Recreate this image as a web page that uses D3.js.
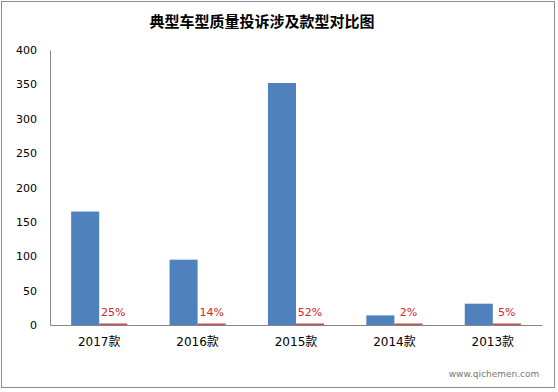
<!DOCTYPE html>
<html>
<head>
<meta charset="utf-8">
<script src="https://cdn.jsdelivr.net/npm/d3@7"></script>
<style>
    body { margin: 0; background: #fff; }
    text { font-family: "DejaVu Sans", sans-serif; }
</style>
</head>
<body>
<div id="chart"></div>
<script>
// chart data
let categories = ["2017款", "2016款", "2015款", "2014款", "2013款"];
let counts = [165, 95, 352, 14, 31];
let shares = [0.25, 0.14, 0.52, 0.02, 0.05];
let shareLabels = ["25%", "14%", "52%", "2%", "5%"];
let yTicks = [0, 50, 100, 150, 200, 250, 300, 350, 400];

let fullWidth = 558;
let fullHeight = 392;
let margin = {top: 50, right: 16, bottom: 67, left: 50};
let width = fullWidth - margin.left - margin.right;
let height = fullHeight - margin.top - margin.bottom;

let root = d3.select("#chart")
    .append("svg")
    .attr("width", fullWidth)
    .attr("height", fullHeight);

// outer frame
root.append("rect")
    .attr("x", 1.5)
    .attr("y", 1.5)
    .attr("width", 553)
    .attr("height", 386)
    .attr("fill", "none")
    .attr("stroke", "#8c8c8c");

root.append("text")
    .attr("x", 262)
    .attr("y", 27)
    .attr("text-anchor", "middle")
    .style("font-family", "'Noto Sans CJK SC', sans-serif")
    .style("font-size", "15px")
    .style("font-weight", "bold")
    .text("典型车型质量投诉涉及款型对比图");

let svg = root.append("g")
    .attr("transform", `translate(${margin.left},${margin.top})`);

let x = d3.scaleBand()
    .domain(categories)
    .range([0, width])
    .paddingInner(0.43)
    .paddingOuter(0.215);

let sub = d3.scaleBand()
    .domain(["count", "share"])
    .range([0, x.bandwidth()]);

let y = d3.scaleLinear()
    .domain([0, 400])
    .range([height, 0]);

// y axis
let yAxis = svg.append("g")
    .call(d3.axisLeft(y).tickValues(yTicks).tickSize(0).tickPadding(13));
yAxis.select(".domain").attr("stroke", "#868686");
yAxis.selectAll("text")
    .style("font-size", "11px")
    .attr("fill", "#000");

// blue bars
svg.selectAll(".count")
    .data(counts)
    .join("rect")
    .attr("class", "count")
    .attr("x", (d, i) => x(categories[i]) + sub("count"))
    .attr("y", d => y(d))
    .attr("width", sub.bandwidth())
    .attr("height", d => height - y(d))
    .attr("fill", "#4f81bd");

// red bars (share on same axis, so nearly flat)
svg.selectAll(".share")
    .data(shares)
    .join("rect")
    .attr("class", "share")
    .attr("x", (d, i) => x(categories[i]) + sub("share"))
    .attr("y", d => Math.min(y(d), height - 1.5))
    .attr("width", sub.bandwidth())
    .attr("height", d => Math.max(height - y(d), 1.5))
    .attr("fill", "#c0504d");

svg.selectAll(".shareLabel")
    .data(shareLabels)
    .join("text")
    .attr("class", "shareLabel")
    .attr("x", (d, i) => x(categories[i]) + sub("share") + sub.bandwidth() / 2)
    .attr("y", (d, i) => y(shares[i]) - 9)
    .attr("text-anchor", "middle")
    .attr("fill", "#d4232b")
    .style("font-size", "11px")
    .text(d => d);

// x axis
let xAxis = svg.append("g")
    .attr("transform", `translate(0,${height})`)
    .call(d3.axisBottom(x).tickSize(0).tickPadding(12));
xAxis.select(".domain").attr("stroke", "#868686");
xAxis.selectAll("text")
    .style("font-size", "12px")
    .style("font-family", "'DejaVu Sans', 'Noto Sans CJK SC', sans-serif")
    .attr("fill", "#000");

// watermark
root.append("text")
    .attr("x", 494)
    .attr("y", 377)
    .attr("text-anchor", "middle")
    .attr("fill", "#777")
    .style("font-size", "9px")
    .text("www.qichemen.com");
</script>
</body>
</html>
